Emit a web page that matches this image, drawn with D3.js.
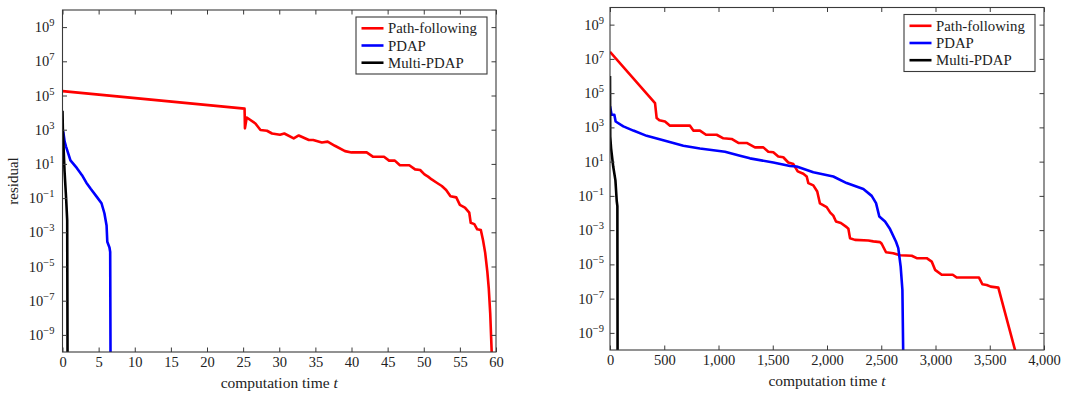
<!DOCTYPE html>
<html><head><meta charset="utf-8">
<script src="https://cdn.jsdelivr.net/npm/d3@7"></script>
<style>
html,body{margin:0;padding:0;background:#fff;}
svg{display:block;}
text{font-family:"Liberation Serif","Times New Roman",serif;fill:#222;}
</style></head>
<body>
<svg id="chart" width="1067" height="394"></svg>
<script>
// ---------- data (time, residual) ----------
const seriesNames = ["Path-following", "PDAP", "Multi-PDAP"];
const seriesColors = ["#ff0000", "#0000ff", "#000000"];

// left panel
const leftXTicks = [0,5,10,15,20,25,30,35,40,45,50,55,60];
const leftPathT = [0,25.2,25.25,25.5,26.7,27.4,28.3,29.0,30.1,30.7,32.0,32.7,34.1,34.7,35.9,36.7,37.7,39.1,40.0,42.1,43.0,44.5,45.2,46.0,46.7,48.0,48.8,49.5,50.1,50.6,51.1,51.8,52.5,53.1,53.7,54.5,55.0,55.7,56.3,56.5,57.0,57.4,57.9,58.2,58.5,58.8,59.0,59.2,59.45];
const leftPathR = [1.8e5,1.7e4,1.2e3,5.2e3,2.3e3,9.5e2,8.7e2,6.0e2,5.1e2,6.0e2,3.1e2,4.6e2,2.5e2,2.5e2,1.8e2,2.0e2,1.15e2,56,47,47,26,26,15.5,15.5,8.3,8.3,4.8,4.4,2.45,1.8,1.23,0.79,0.51,0.30,0.13,0.11,0.040,0.028,0.014,3.6e-3,3.0e-3,1.5e-3,1.35e-3,3.5e-4,6.5e-5,5.0e-6,5.2e-7,1.8e-8,3e-11];
const leftPdapT = [0.1,0.3,0.5,1.1,2.0,2.7,3.3,3.9,4.8,5.4,5.8,6.1,6.2,6.5,6.6,6.65];
const leftPdapR = [800,200,100,16,5.6,2.2,0.8,0.35,0.11,0.05,1.3e-2,2.5e-3,2.8e-4,1.3e-4,7e-5,3e-11];
const leftMultiT = [0,0.05,0.28,0.5,0.65,0.7];
const leftMultiR = [1.3e4,1e3,4,0.1,5e-3,3e-11];

// right panel
const rightXTicks = [0,500,1000,1500,2000,2500,3000,3500,4000];
const rightPathT = [0,415,430,455,507,553,737,768,829,885,983,1045,1121,1183,1260,1336,1413,1459,1505,1551,1597,1643,1690,1730,1782,1813,1828,1874,1910,1935,1997,2030,2058,2083,2128,2181,2197,2212,2258,2381,2427,2489,2504,2544,2611,2673,2781,2827,2919,2965,2996,3057,3159,3195,3401,3432,3472,3509,3579,3755];
const rightPathR = [2.6e7,2.6e4,3.5e3,2.6e3,2.2e3,1.26e3,1.26e3,650,650,370,370,230,210,123,123,68,68,38,35,20,18,8.9,7.2,2.7,1.95,1.35,0.56,0.41,0.18,0.036,0.022,0.0105,7e-3,3.2e-3,2.6e-3,1.5e-3,1.2e-3,3.4e-4,2.7e-4,2.5e-4,2.2e-4,2.0e-4,1.6e-4,5.1e-5,4.5e-5,3.4e-5,3.2e-5,2.3e-5,2.3e-5,1.45e-5,4.8e-6,2.5e-6,2.5e-6,1.7e-6,1.7e-6,6.9e-7,6.3e-7,5.0e-7,4.4e-7,3e-11];
const rightPdapT = [0,15,40,52,123,215,338,491,676,829,1060,1198,1290,1505,1659,1720,1874,2058,2181,2335,2412,2452,2482,2535,2581,2636,2657,2679,2695,2703];
const rightPdapR = [1.7e4,5.5e3,5.5e3,2.2e3,1.15e3,650,320,175,85,59,38,22,15.5,8.9,5.6,5.2,2.4,1.35,0.56,0.25,0.10,0.038,6.3e-3,3.2e-3,1.15e-3,2.1e-4,8.9e-5,7.4e-6,3.2e-7,3e-11];
const rightMultiT = [0,2,10,30,50,62,68,70];
const rightMultiR = [1e6,3e2,60,5,0.8,0.05,0.025,3e-11];

const yTickExps = [-9,-7,-5,-3,-1,1,3,5,7,9];

// ---------- drawing ----------
const svg = d3.select("#chart");
const zip = (ts, rs) => ts.map((t,i)=>[t, rs[i]]);

function panel(cfg){
  const x = d3.scaleLinear().domain(cfg.xDomain).range([cfg.x0, cfg.x1]);
  const y = d3.scaleLog().domain([1e-10, 1e10]).range([cfg.yBot, cfg.yTop]);
  const g = svg.append("g");
  const clipId = "clip" + cfg.id;
  svg.append("clipPath").attr("id", clipId).append("rect")
    .attr("x", cfg.x0).attr("y", cfg.yTop).attr("width", cfg.x1 - cfg.x0).attr("height", cfg.yBot - cfg.yTop);

  // series
  const line = d3.line().x(d=>x(d[0])).y(d=>y(d[1]));
  const lines = g.append("g").attr("clip-path", `url(#${clipId})`);
  cfg.series.forEach((s,i)=>{
    lines.append("path").datum(s).attr("d", line)
      .attr("fill","none").attr("stroke", seriesColors[i]).attr("stroke-width", 2.6)
      .attr("stroke-linejoin","round");
  });
  // frame
  const tl = 4.5;
  g.append("rect").attr("x", cfg.x0).attr("y", cfg.yTop)
    .attr("width", cfg.x1-cfg.x0).attr("height", cfg.yBot-cfg.yTop)
    .attr("fill","none").attr("stroke","#3a3a3a").attr("stroke-width",1.1);

  // x ticks (bottom & top, inward)
  const xAxisB = d3.axisBottom(x).tickValues(cfg.xTicks).tickSizeInner(-tl).tickSizeOuter(0)
    .tickPadding(4.5).tickFormat(d3.format(cfg.xFormat));
  const gb = g.append("g").attr("transform", `translate(0,${cfg.yBot})`).call(xAxisB);
  gb.select(".domain").remove();
  gb.selectAll("line").attr("stroke","#3a3a3a");
  gb.selectAll("text").attr("font-size", 14.5).attr("fill","#222")
    .attr("font-family",'"Liberation Serif",serif');
  const xAxisT = d3.axisTop(x).tickValues(cfg.xTicks).tickSizeInner(-tl).tickSizeOuter(0).tickFormat("");
  const gt = g.append("g").attr("transform", `translate(0,${cfg.yTop})`).call(xAxisT);
  gt.select(".domain").remove();
  gt.selectAll("line").attr("stroke","#3a3a3a");

  // y ticks (left & right, inward)
  const yVals = yTickExps.map(e=>Math.pow(10,e));
  const yAxisL = d3.axisLeft(y).tickValues(yVals).tickSizeInner(-tl).tickSizeOuter(0).tickFormat("");
  const gl = g.append("g").attr("transform", `translate(${cfg.x0},0)`).call(yAxisL);
  gl.select(".domain").remove();
  gl.selectAll("line").attr("stroke","#3a3a3a");
  const yAxisR = d3.axisRight(y).tickValues(yVals).tickSizeInner(-tl).tickSizeOuter(0).tickFormat("");
  const gr = g.append("g").attr("transform", `translate(${cfg.x1},0)`).call(yAxisR);
  gr.select(".domain").remove();
  gr.selectAll("line").attr("stroke","#3a3a3a");

  // y tick labels 10^e
  yTickExps.forEach(e=>{
    const t = g.append("text").attr("x", cfg.x0 - cfg.labelGap).attr("y", y(Math.pow(10,e)) + 5)
      .attr("text-anchor","end").attr("font-size",14.5);
    t.append("tspan").text("10");
    t.append("tspan").attr("dy",-6).attr("font-size",10.5).text(e < 0 ? "\u2212" + Math.abs(e) : String(e));
  });

  // x label
  const xl = g.append("text").attr("x", (cfg.x0+cfg.x1)/2).attr("y", cfg.yBot + 36)
    .attr("text-anchor","middle").attr("font-size",15.5);
  xl.append("tspan").text("computation time ");
  xl.append("tspan").attr("font-style","italic").text("t");

  if (cfg.yLabel){
    g.append("text").attr("transform", `translate(18,${(cfg.yTop+cfg.yBot)/2}) rotate(-90)`)
      .attr("text-anchor","middle").attr("font-size",15).text(cfg.yLabel);
  }

  // legend
  const lw = 131, lh = 57;
  const lx = cfg.x1 - 9 - lw, ly = cfg.yTop + 7;
  const lg = g.append("g");
  lg.append("rect").attr("x", lx).attr("y", ly).attr("width", lw).attr("height", lh)
    .attr("fill","#fff").attr("stroke","#3a3a3a").attr("stroke-width",1.1);
  seriesNames.forEach((n,i)=>{
    const cy = ly + 11.3 + i*17.2;
    lg.append("line").attr("x1", lx+5.5).attr("x2", lx+27.5).attr("y1", cy).attr("y2", cy)
      .attr("stroke", seriesColors[i]).attr("stroke-width",2.6);
    lg.append("text").attr("x", lx+32).attr("y", cy+5).attr("font-size",14.8).text(n);
  });
}

panel({id:"L", x0:62.5, x1:496, yTop:10, yBot:352, xDomain:[0,60], xTicks:leftXTicks, xFormat:"d",
  labelGap:8, yLabel:"residual",
  series:[zip(leftPathT,leftPathR), zip(leftPdapT,leftPdapR), zip(leftMultiT,leftMultiR)]});
panel({id:"R", x0:610, x1:1044, yTop:7.5, yBot:350, xDomain:[0,4000], xTicks:rightXTicks, xFormat:",",
  labelGap:6, yLabel:null,
  series:[zip(rightPathT,rightPathR), zip(rightPdapT,rightPdapR), zip(rightMultiT,rightMultiR)]});
</script>
</body></html>
